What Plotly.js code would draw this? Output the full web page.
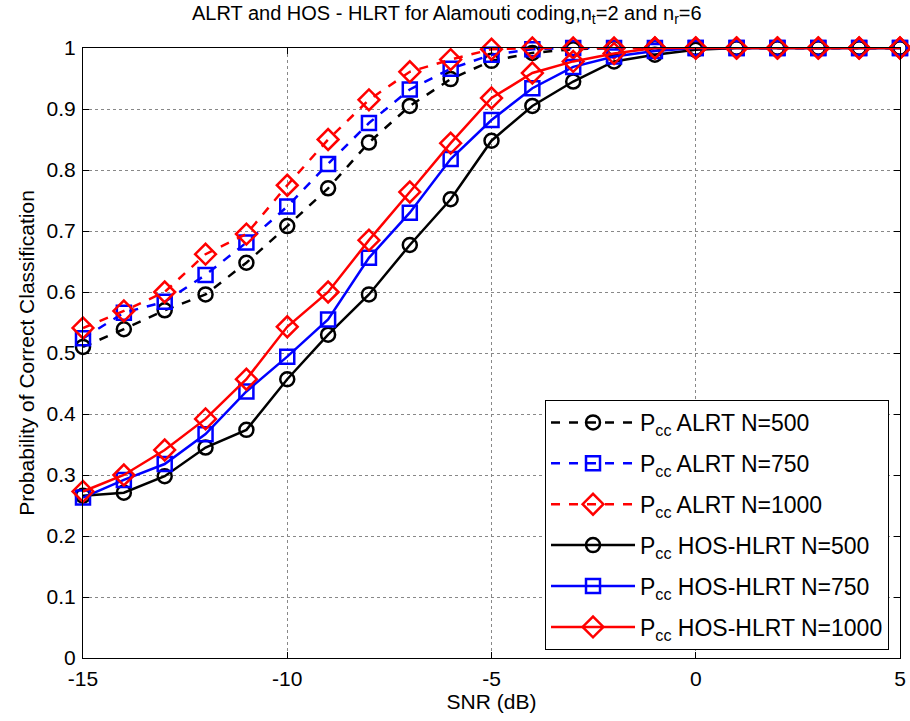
<!DOCTYPE html>
<html><head><meta charset="utf-8">
<script src="https://cdn.plot.ly/plotly-3.0.1.min.js"></script>
<style>body{margin:0;background:#fff}#c{width:910px;height:721px}</style>
</head><body><div id="c"></div>
<script>
const snr = [-15,-14,-13,-12,-11,-10,-9,-8,-7,-6,-5,-4,-3,-2,-1,0,1,2,3,4,5];
const alrt500  = [0.510,0.539,0.570,0.596,0.648,0.708,0.770,0.845,0.905,0.949,0.979,0.992,0.998,1,1,1,1,1,1,1,1];
const alrt750  = [0.524,0.566,0.584,0.628,0.681,0.740,0.810,0.877,0.932,0.966,0.989,0.998,1,1,1,1,1,1,1,1,1];
const alrt1000 = [0.541,0.569,0.600,0.662,0.695,0.775,0.850,0.915,0.961,0.981,0.998,1,1,1,1,1,1,1,1,1,1];
const hos500   = [0.266,0.271,0.298,0.345,0.374,0.457,0.530,0.596,0.677,0.752,0.848,0.905,0.945,0.978,0.989,0.997,1,1,1,1,1];
const hos750   = [0.263,0.292,0.318,0.367,0.437,0.494,0.555,0.656,0.730,0.818,0.882,0.934,0.969,0.986,0.995,1,1,1,1,1,1];
const hos1000  = [0.273,0.300,0.341,0.392,0.457,0.543,0.600,0.685,0.764,0.844,0.918,0.959,0.978,0.991,1,1,1,1,1,1,1];
const xTickVals = [-15,-10,-5,0,5];
const xTickText = ['-15','-10','-5','0','5'];
const yTickVals = [0,0.1,0.2,0.3,0.4,0.5,0.6,0.7,0.8,0.9,1];
const yTickText = ['0','0.1','0.2','0.3','0.4','0.5','0.6','0.7','0.8','0.9','1'];
const names = ['P<sub>cc</sub> ALRT N=500','P<sub>cc</sub> ALRT N=750','P<sub>cc</sub> ALRT N=1000',
               'P<sub>cc</sub> HOS-HLRT N=500','P<sub>cc</sub> HOS-HLRT N=750','P<sub>cc</sub> HOS-HLRT N=1000'];
const series = [alrt500,alrt750,alrt1000,hos500,hos750,hos1000];
const colors = ['#000000','#0000ff','#ff0000','#000000','#0000ff','#ff0000'];
const symbols = ['circle-open','square-open','diamond-open','circle-open','square-open','diamond-open'];
const dashes = ['dash','dash','dash','solid','solid','solid'];
const traces = series.map((ys,i)=>({
  x: snr, y: ys, name: names[i], type:'scatter', mode:'lines+markers', legendgroup:'g'+i,
  cliponaxis:false,
  line:{color:colors[i], width:2.5, dash:dashes[i]},
  marker:{symbol:symbols[i], size: symbols[i]==='diamond-open'?16:14, color:colors[i], line:{color:colors[i], width:2.5}}
}));
const layout = {
  width:910, height:721,
  margin:{l:83, r:10, t:48, b:63},
  paper_bgcolor:'#fff', plot_bgcolor:'#fff',
  font:{family:'Liberation Sans, Arial, sans-serif', size:21, color:'#000'},
  title:{text:'ALRT and HOS - HLRT for Alamouti coding,n<sub>t</sub>=2 and n<sub>r</sub>=6', x:0.491, xanchor:'center', y:0.992, yanchor:'top', font:{size:20}},
  xaxis:{range:[-15,5], tickvals:xTickVals, ticktext:xTickText, showgrid:true, gridcolor:'#888', griddash:'dot', gridwidth:1,
         zeroline:false, showline:true, linecolor:'#000', linewidth:1, mirror:'ticks', ticks:'inside', ticklen:6, tickcolor:'#000',
         ticklabelstandoff:2,
         title:{text:'SNR (dB)', font:{size:21}, standoff:2}, tickfont:{size:21}},
  yaxis:{range:[0,1], tickvals:yTickVals, ticktext:yTickText, showgrid:true, gridcolor:'#888', griddash:'dot', gridwidth:1,
         zeroline:false, showline:true, linecolor:'#000', linewidth:1, mirror:'ticks', ticks:'inside', ticklen:6, tickcolor:'#000',
         ticklabelstandoff:2,
         title:{text:'Probability of Correct Classification', font:{size:21}, standoff:6}, tickfont:{size:21}},
  legend:{x:0.5655, y:0.423, xanchor:'left', yanchor:'top', bgcolor:'#fff', bordercolor:'#000', borderwidth:1,
          font:{size:23}, tracegroupgap:8, itemwidth:84},
  showlegend:true
};
Plotly.newPlot('c', traces, layout, {displayModeBar:false, staticPlot:true});
</script></body></html>
